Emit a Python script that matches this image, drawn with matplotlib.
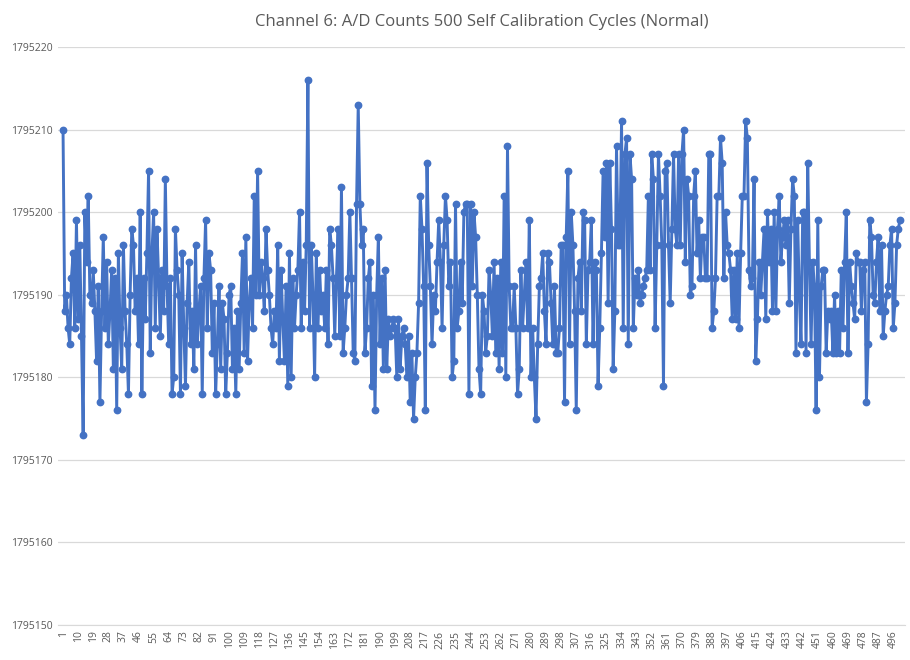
import matplotlib
matplotlib.use("Agg")
import matplotlib.pyplot as plt

title = "Channel 6: A/D Counts 500 Self Calibration Cycles (Normal)"
base_count = 1795000
# last three digits of the A/D count for each of the 500 cycles
count_offsets = [
    210, 188, 190, 186, 184, 192, 195, 186, 199, 187, 196, 185, 173, 200, 194, 202, 190, 189, 193, 188,
    182, 191, 177, 188, 197, 186, 194, 184, 188, 193, 181, 192, 176, 195, 186, 181, 196, 188, 184, 178,
    190, 198, 196, 188, 192, 184, 200, 178, 192, 187, 195, 205, 183, 195, 200, 186, 198, 192, 185, 193,
    188, 204, 191, 184, 192, 178, 180, 198, 193, 190, 178, 195, 186, 179, 189, 194, 184, 188, 181, 196,
    184, 188, 191, 178, 192, 199, 186, 195, 193, 183, 189, 178, 184, 191, 181, 189, 187, 178, 183, 190,
    191, 181, 186, 178, 188, 181, 189, 195, 183, 197, 182, 189, 192, 186, 202, 190, 205, 190, 194, 192,
    188, 198, 193, 190, 186, 184, 188, 186, 196, 182, 193, 187, 182, 191, 179, 195, 180, 192, 186, 190,
    193, 200, 186, 194, 188, 196, 216, 186, 196, 190, 180, 195, 186, 193, 188, 190, 186, 193, 184, 198,
    196, 192, 185, 192, 198, 185, 203, 183, 186, 190, 192, 200, 192, 183, 182, 201, 213, 201, 196, 198,
    183, 186, 192, 194, 179, 190, 176, 190, 197, 184, 192, 181, 193, 181, 187, 185, 186, 187, 186, 180,
    187, 181, 185, 186, 184, 180, 185, 177, 183, 175, 180, 183, 189, 202, 198, 191, 176, 206, 196, 191,
    184, 190, 188, 194, 199, 194, 186, 196, 202, 199, 191, 194, 180, 182, 201, 186, 188, 194, 189, 200,
    201, 201, 178, 201, 191, 200, 197, 190, 181, 178, 190, 188, 183, 185, 193, 190, 185, 194, 183, 192,
    181, 194, 183, 202, 180, 208, 191, 186, 186, 191, 186, 178, 181, 193, 186, 190, 194, 186, 199, 180,
    186, 180, 175, 184, 191, 192, 195, 188, 184, 195, 194, 189, 184, 191, 183, 183, 186, 196, 196, 177,
    197, 205, 184, 200, 196, 188, 176, 192, 194, 188, 200, 199, 184, 193, 194, 199, 184, 194, 193, 179,
    186, 195, 205, 197, 206, 189, 206, 198, 181, 188, 208, 196, 196, 211, 186, 207, 209, 184, 207, 204,
    186, 192, 190, 193, 189, 190, 191, 192, 193, 202, 193, 207, 204, 186, 196, 207, 202, 196, 179, 205,
    206, 196, 189, 198, 207, 198, 196, 207, 196, 207, 210, 194, 204, 202, 190, 191, 202, 205, 195, 199,
    192, 197, 197, 192, 192, 207, 207, 186, 188, 192, 202, 202, 209, 206, 192, 200, 196, 195, 193, 187,
    193, 187, 195, 186, 195, 202, 202, 211, 209, 193, 191, 192, 204, 182, 187, 194, 190, 194, 198, 187,
    200, 194, 198, 188, 200, 188, 198, 202, 194, 197, 199, 196, 199, 189, 198, 204, 202, 183, 199, 190,
    184, 200, 200, 183, 206, 194, 184, 194, 191, 176, 199, 180, 191, 193, 193, 183, 188, 187, 188, 183,
    190, 183, 188, 183, 193, 186, 194, 200, 183, 194, 191, 189, 187, 195, 194, 194, 188, 193, 194, 177,
    184, 199, 197, 190, 189, 194, 197, 188, 196, 185, 188, 190, 191, 196, 198, 186, 189, 196, 198, 199,
]
counts = [base_count + v for v in count_offsets]
cycles = list(range(1, len(counts) + 1))
x_tick_values = list(range(1, len(counts) + 1, 9))
y_tick_values = [1795150, 1795160, 1795170, 1795180, 1795190, 1795200, 1795210, 1795220]

plt.rcParams['font.family'] = ['Open Sans', 'DejaVu Sans']
text_gray = '#595959'

fig = plt.figure(figsize=(9.1, 6.6), dpi=100)
ax = fig.add_axes([58 / 910, 35 / 660, 847 / 910, 578 / 660])

ax.plot(cycles, counts, color='#4472C4', linewidth=2.1, marker='o',
        markersize=4.6, markerfacecolor='#4472C4', markeredgecolor='#4472C4', zorder=3)

ax.set_xlim(-2, 503)
ax.set_ylim(y_tick_values[0], y_tick_values[-1])
ax.set_yticks(y_tick_values)
ax.set_yticklabels([str(v) for v in y_tick_values], fontsize=7.5, color=text_gray)
ax.set_xticks(x_tick_values)
ax.set_xticklabels([str(v) for v in x_tick_values], fontsize=7.5, color=text_gray, rotation=90)
ax.tick_params(axis='both', length=0, pad=4)
ax.grid(axis='y', color='#D9D9D9', linewidth=0.9, zorder=0)
for side in ['top', 'right', 'left']:
    ax.spines[side].set_visible(False)
ax.spines['bottom'].set_color('#D9D9D9')
ax.set_title(title, fontsize=12, color=text_gray, pad=15)

fig.savefig('out.png', dpi=100)
